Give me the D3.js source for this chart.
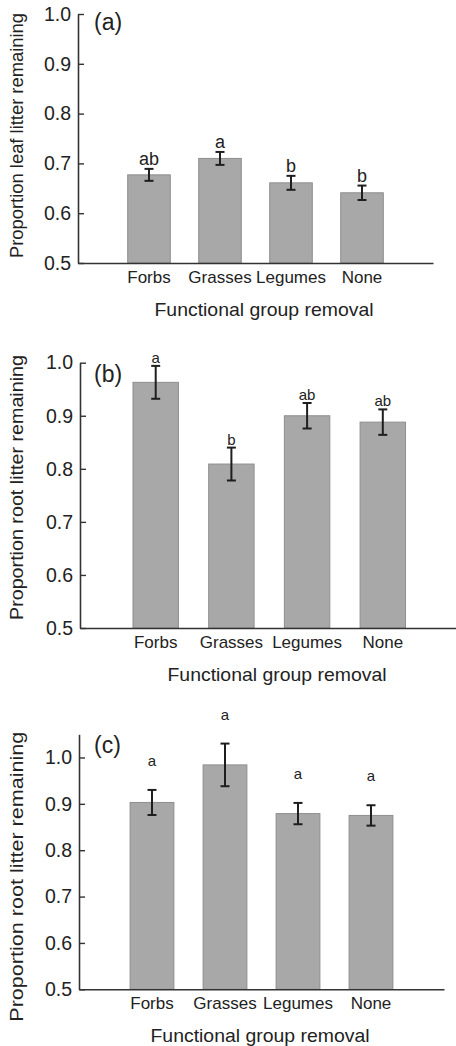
<!DOCTYPE html>
<html>
<head>
<meta charset="utf-8">
<script src="https://cdn.jsdelivr.net/npm/d3@7"></script>
<style>
  body { margin: 0; background: #fff; }
  svg text { font-family: "Liberation Sans", Arial, sans-serif; fill: #222; }
</style>
</head>
<body>
<svg id="Fig" width="456" height="1046"></svg>
<script>
// data
let groups = ["Forbs", "Grasses", "Legumes", "None"]
let yTicks = [0.5, 0.6, 0.7, 0.8, 0.9, 1.0]

let leafMean = [0.677, 0.710, 0.661, 0.641]
let leafErr = [0.012, 0.013, 0.014, 0.0145]
let leafLetters = ["ab", "a", "b", "b"]

let rootMeanB = [0.963, 0.809, 0.900, 0.888]
let rootErrB = [0.031, 0.031, 0.024, 0.024]
let rootLettersB = ["a", "b", "ab", "ab"]

let rootMeanC = [0.903, 0.984, 0.879, 0.875]
let rootErrC = [0.027, 0.046, 0.023, 0.022]
let rootLettersC = ["a", "a", "a", "a"]

let svg = d3.select("#Fig")

let panels = [
    { tag: "(a)", ylab: "Proportion leaf litter remaining", mean: leafMean, err: leafErr, letters: leafLetters,
      left: 78, right: 433, top: 14, bottom: 263, ymax: 1.0, gap: 4, letterSize: 18,
      ylabLen: 245, ylabMid: 135.5, xlabMid: 264, tagY: 29.5 },
    { tag: "(b)", ylab: "Proportion root litter remaining", mean: rootMeanB, err: rootErrB, letters: rootLettersB,
      left: 80, right: 458.5, top: 362.7, bottom: 628, ymax: 1.0, gap: 3, letterSize: 15,
      ylabLen: 265, ylabMid: 487.5, xlabMid: 277, tagY: 382 },
    { tag: "(c)", ylab: "Proportion root litter remaining", mean: rootMeanC, err: rootErrC, letters: rootLettersC,
      left: 79, right: 444, top: 734.3, bottom: 989.3, ymax: 1.05, gap: 24, letterSize: 15,
      ylabLen: 290, ylabMid: 876.7, xlabMid: 260, tagY: 752.5 }
]

panels.forEach(drawPanel)

function drawPanel(p){
    let rows = groups.map((g, i) => ({ g: g, m: p.mean[i], e: p.err[i], l: p.letters[i] }))

    let xScale = d3.scaleBand()
        .domain(groups)
        .range([p.left, p.right])
        .paddingInner(0.4)
        .paddingOuter(0.7)

    let yScale = d3.scaleLinear()
        .domain([0.5, p.ymax])
        .range([p.bottom, p.top])

    let g = svg.append("g")

    // bars
    g.selectAll(".bar").data(rows).enter().append("rect")
        .attr("x", d => xScale(d.g))
        .attr("width", xScale.bandwidth())
        .attr("y", d => yScale(d.m))
        .attr("height", d => yScale(0.5) - yScale(d.m))
        .attr("fill", "#a8a8a8")
        .attr("stroke", "#8e8e8e")
        .attr("stroke-width", 1)

    // error bars
    let eb = g.selectAll(".eb").data(rows).enter().append("g")
        .attr("stroke", "#1e1e1e")
        .attr("stroke-width", 2)
    let cx = d => xScale(d.g) + xScale.bandwidth() / 2
    eb.append("line")
        .attr("x1", cx).attr("x2", cx)
        .attr("y1", d => yScale(d.m + d.e)).attr("y2", d => yScale(d.m - d.e))
    eb.append("line")
        .attr("x1", d => cx(d) - 4.5).attr("x2", d => cx(d) + 4.5)
        .attr("y1", d => yScale(d.m + d.e)).attr("y2", d => yScale(d.m + d.e))
    eb.append("line")
        .attr("x1", d => cx(d) - 4.5).attr("x2", d => cx(d) + 4.5)
        .attr("y1", d => yScale(d.m - d.e)).attr("y2", d => yScale(d.m - d.e))

    // significance letters
    g.selectAll(".let").data(rows).enter().append("text")
        .attr("x", cx)
        .attr("y", d => yScale(d.m + d.e) - p.gap)
        .attr("text-anchor", "middle")
        .style("font-size", p.letterSize + "px")
        .text(d => d.l)

    // y axis, ticks pointing inward
    let axisY = d3.axisLeft(yScale)
        .tickValues(yTicks)
        .tickFormat(d3.format(".1f"))
        .tickSizeInner(-6)
        .tickSizeOuter(0)
        .tickPadding(7)
    let ya = g.append("g")
        .attr("transform", `translate(${p.left},0)`)
        .call(axisY)
    ya.select(".domain").attr("stroke", "#333").attr("stroke-width", 1.6)
    ya.selectAll(".tick line").attr("stroke", "#333").attr("stroke-width", 1.4)
    ya.selectAll(".tick text")
        .style("font-size", "19.5px")
        .style("font-family", null)
        .attr("fill", null)

    // x axis
    let axisX = d3.axisBottom(xScale)
        .tickSize(0)
        .tickSizeOuter(0)
    let xa = g.append("g")
        .attr("transform", `translate(0,${p.bottom})`)
        .call(axisX)
    xa.select(".domain").attr("stroke", "#333").attr("stroke-width", 1.6)
    xa.selectAll(".tick text")
        .attr("y", 20)
        .attr("dy", null)
        .style("font-size", "17px")
        .attr("fill", null)
    xa.attr("font-family", null).attr("font-size", null)
    ya.attr("font-family", null).attr("font-size", null)

    // axis titles
    g.append("text")
        .attr("x", p.xlabMid)
        .attr("y", p.bottom + 53)
        .attr("text-anchor", "middle")
        .attr("textLength", 219)
        .attr("lengthAdjust", "spacingAndGlyphs")
        .style("font-size", "18.5px")
        .text("Functional group removal")

    g.append("text")
        .attr("transform", `translate(23,${p.ylabMid}) rotate(-90)`)
        .attr("text-anchor", "middle")
        .attr("textLength", p.ylabLen)
        .attr("lengthAdjust", "spacingAndGlyphs")
        .style("font-size", "18px")
        .text(p.ylab)

    // panel tag
    g.append("text")
        .attr("x", 94)
        .attr("y", p.tagY)
        .style("font-size", "23px")
        .text(p.tag)
}
</script>
</body>
</html>
